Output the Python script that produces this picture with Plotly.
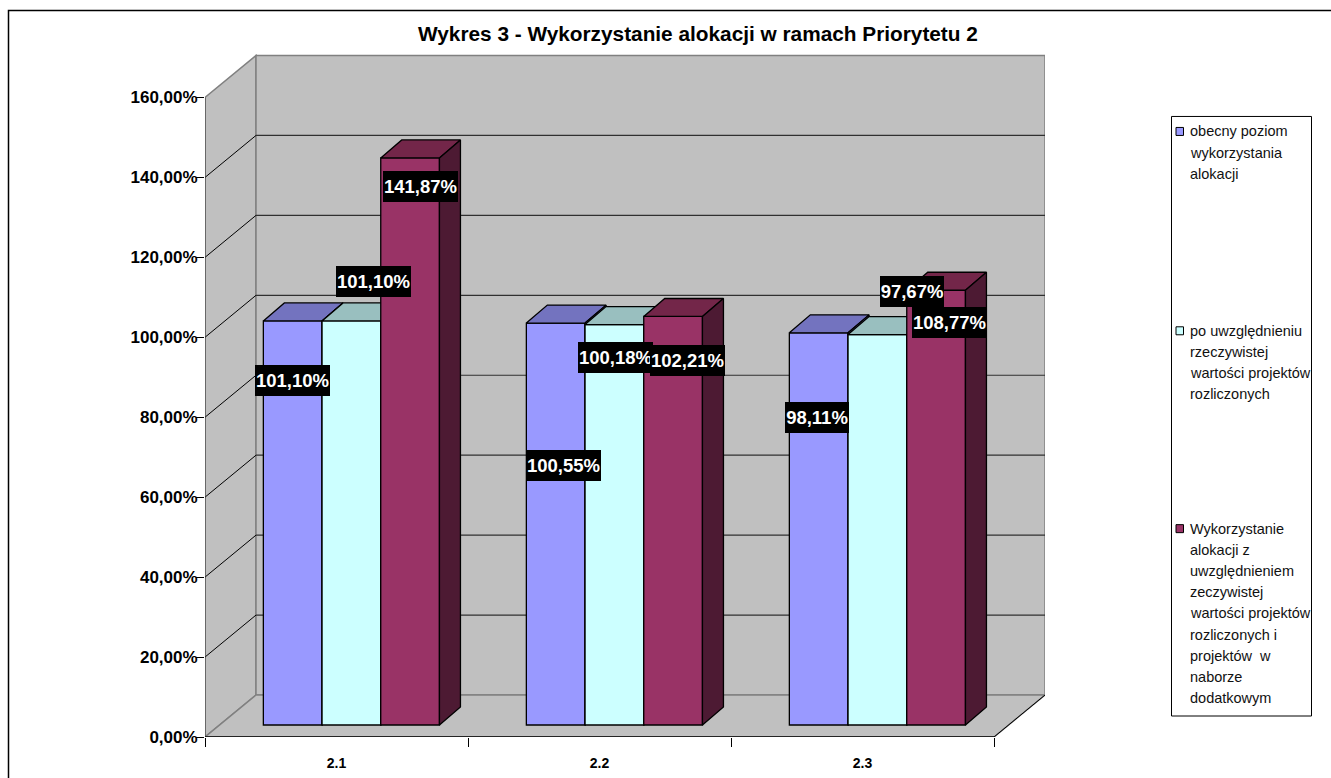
import plotly.graph_objects as go

categories = ["2.1", "2.2", "2.3"]
series_names = [
    "obecny poziom<br>wykorzystania<br>alokacji",
    "po uwzględnieniu<br>rzeczywistej<br>wartości projektów<br>rozliczonych",
    "Wykorzystanie<br>alokacji z<br>uwzględnieniem<br>zeczywistej<br>wartości projektów<br>rozliczonych i<br>projektów  w<br>naborze<br>dodatkowym",
]
obecny = [101.10, 100.55, 98.11]
po_uwzgl = [101.10, 100.18, 97.67]
wykorzystanie = [141.87, 102.21, 108.77]
y_ticks = [0, 20, 40, 60, 80, 100, 120, 140, 160]
y_labels = ["0,00%", "20,00%", "40,00%", "60,00%", "80,00%", "100,00%", "120,00%", "140,00%", "160,00%"]
title = "Wykres 3 - Wykorzystanie alokacji w ramach Priorytetu 2"

front_colors = ["#9999FF", "#CCFFFF", "#993366"]
top_colors = ["#7373BF", "#99BFBF", "#732649"]
side_colors = ["#4D4D80", "#668080", "#4D1A33"]

# Pixel geometry of the plot box
W, H = 1331, 778
L, R, T, B = 205, 1045, 54, 737.5
PX_PER_CAT = 263.0
PX_PER_PCT = 4.0
xmin = -0.5
xmax = xmin + (R - L) / PX_PER_CAT
ymax = (B - T) / PX_PER_PCT

# oblique projection, in data units
WALL_DX, WALL_DY = 51 / PX_PER_CAT, 42 / PX_PER_PCT
FRONT_DX, FRONT_DY = 14.9 / PX_PER_CAT, 12 / PX_PER_PCT
BAR_DX, BAR_DY = 21 / PX_PER_CAT, 18 / PX_PER_PCT
BAR_W = 58.7 / PX_PER_CAT
xend = 2.5


def px(x):
    return (x - L) / (R - L)


def py(y):
    return (B - y) / (B - T)


def dx(p):
    return xmin + (p - L) / PX_PER_CAT


def dy(p):
    return (B - p) / PX_PER_PCT


fig = go.Figure()
all_series = [obecny, po_uwzgl, wykorzystanie]
for s, vals in enumerate(all_series):
    suffix = "" if s == 0 else str(s + 1)
    xa, ya = "x" + suffix, "y" + suffix
    centers = [i + FRONT_DX + (s - 1) * BAR_W for i in range(len(categories))]
    for c, v in zip(centers, vals):
        l, r = c - BAR_W / 2, c + BAR_W / 2
        top = FRONT_DY + v
        fig.add_trace(go.Scatter(
            x=[l, r, r + BAR_DX, l + BAR_DX, l], y=[top, top, top + BAR_DY, top + BAR_DY, top],
            fill="toself", fillcolor=top_colors[s], mode="lines", line=dict(color="black", width=1.3),
            hoverinfo="skip", showlegend=False, xaxis=xa, yaxis=ya))
        fig.add_trace(go.Scatter(
            x=[r, r + BAR_DX, r + BAR_DX, r, r],
            y=[top, top + BAR_DY, FRONT_DY + BAR_DY, FRONT_DY, top],
            fill="toself", fillcolor=side_colors[s], mode="lines", line=dict(color="black", width=1.3),
            hoverinfo="skip", showlegend=False, xaxis=xa, yaxis=ya))
    fig.add_trace(go.Bar(
        x=centers, y=vals, base=FRONT_DY, width=BAR_W, name=series_names[s].replace("<br>", " "),
        marker=dict(color=front_colors[s], line=dict(color="black", width=1.3)),
        showlegend=False, xaxis=xa, yaxis=ya))

shapes = []


def poly(pts, fill, line="#808080", width=1.5):
    path = "M" + " L".join(f"{x},{y}" for x, y in pts) + " Z"
    shapes.append(dict(type="path", path=path, xref="x", yref="y", fillcolor=fill,
                       line=dict(color=line, width=width), layer="below"))


def seg(x0, y0, x1, y1, color="black", width=1):
    shapes.append(dict(type="line", x0=x0, y0=y0, x1=x1, y1=y1, xref="x", yref="y",
                       line=dict(color=color, width=width), layer="below"))


poly([(xmin, 0), (xmin + WALL_DX, WALL_DY), (xmin + WALL_DX, 160 + WALL_DY), (xmin, 160)], "#C0C0C0")
poly([(xmin + WALL_DX, WALL_DY), (xend + WALL_DX, WALL_DY), (xend + WALL_DX, 160 + WALL_DY),
      (xmin + WALL_DX, 160 + WALL_DY)], "#C0C0C0")
poly([(xmin, 0), (xend, 0), (xend + WALL_DX, WALL_DY), (xmin + WALL_DX, WALL_DY)], "#C0C0C0")
for t in y_ticks[1:-1]:
    seg(xmin, t, xmin + WALL_DX, t + WALL_DY)
    seg(xmin + WALL_DX, t + WALL_DY, xend + WALL_DX, t + WALL_DY, color="#303030", width=1.2)
seg(xmin, 0, xmin, 160, color="#404040")
seg(xmin, 0, xend, 0, width=1.5)
seg(xend, 0, xend + WALL_DX, WALL_DY)

# chart frame, running off the page on the right and bottom like the source
shapes.append(dict(type="rect", xref="paper", yref="paper", x0=px(8.5), y0=py(800), x1=px(1400), y1=py(10.5),
                   line=dict(color="black", width=1.5), fillcolor="rgba(0,0,0,0)", layer="below"))
# legend box
shapes.append(dict(type="rect", xref="paper", yref="paper", x0=px(1171.5), y0=py(716.5), x1=px(1311.5), y1=py(116.5),
                   line=dict(color="black", width=1), fillcolor="white", layer="below"))

annotations = [dict(text=f"<b>{title}</b>", xref="paper", yref="paper", x=px(697.5), y=py(33), showarrow=False,
                    font=dict(family="Liberation Sans", size=20.8, color="black"), xanchor="center", yanchor="middle")]

LEGEND_LINE = 21.2
legend_first_line = [131.5, 331, 529]
for s, (name, c0) in enumerate(zip(series_names, legend_first_line)):
    shapes.append(dict(type="rect", xref="paper", yref="paper", x0=px(1176), x1=px(1183.5),
                       y0=py(c0 + 4), y1=py(c0 - 4), fillcolor=front_colors[s],
                       line=dict(color="black", width=1), layer="above"))
    for k, line_text in enumerate(name.split("<br>")):
        annotations.append(dict(text=line_text, xref="paper", yref="paper", x=px(1188),
                                y=py(c0 + k * LEGEND_LINE), showarrow=False,
                                xanchor="left", yanchor="middle", align="left",
                                font=dict(family="Liberation Sans", size=14.5, color="#111111")))

# value labels (series index, category index, centre pixel)
label_positions = [
    (0, 0, 292, 381), (1, 0, 373, 282), (2, 0, 420, 187),
    (0, 1, 563, 466), (1, 1, 615, 358), (2, 1, 687, 361),
    (0, 2, 817, 418), (1, 2, 912, 292), (2, 2, 949, 323),
]
for s, c, lx, ly in label_positions:
    txt = f"{all_series[s][c]:.2f}%".replace(".", ",")
    annotations.append(dict(text=f"<b>{txt}</b>", x=dx(lx), y=dy(ly), xref="x", yref="y", showarrow=False,
                            bgcolor="black", borderpad=0, borderwidth=0, height=31,
                            width=75 if all_series[s][c] >= 100 else 64,
                            font=dict(family="Liberation Sans", size=18.5, color="white"),
                            xanchor="center", yanchor="middle"))

hidden = dict(visible=False, range=[xmin, xmax], fixedrange=True)
hiddeny = dict(visible=False, range=[0, ymax], fixedrange=True)
fig.update_layout(
    width=W, height=H, autosize=False,
    margin=dict(l=L, r=W - R, t=T, b=H - B, pad=0),
    paper_bgcolor="white", plot_bgcolor="rgba(0,0,0,0)",
    barmode="overlay", showlegend=False, shapes=shapes, annotations=annotations,
    xaxis=dict(range=[xmin, xmax], tickmode="array", tickvals=[0, 1, 2], ticktext=categories, automargin=False,
               showgrid=False, zeroline=False, showline=False, ticks="", ticklabelstandoff=16,
               tickfont=dict(family="Liberation Sans", size=14, color="black", weight="bold"),
               minor=dict(tickmode="array", tickvals=[-0.5, 0.5, 1.5, 2.5], ticks="outside", ticklen=9,
                          tickcolor="black", tickwidth=1, showgrid=False),
               fixedrange=True),
    yaxis=dict(range=[0, ymax], tickmode="array", tickvals=y_ticks, ticktext=y_labels, ticks="outside",
               automargin=False, ticklen=8, tickcolor="black", tickwidth=1, showgrid=False, zeroline=False,
               showline=False, ticklabelstandoff=-5,
               tickfont=dict(family="Liberation Sans", size=17, color="black", weight="bold"),
               fixedrange=True),
    xaxis2=dict(overlaying="x", **hidden), yaxis2=dict(overlaying="y", **hiddeny),
    xaxis3=dict(overlaying="x", **hidden), yaxis3=dict(overlaying="y", **hiddeny),
)
fig.write_html("out.html", config=dict(displayModeBar=False),
               post_script="document.body.style.margin='0';document.body.style.overflow='hidden';")
